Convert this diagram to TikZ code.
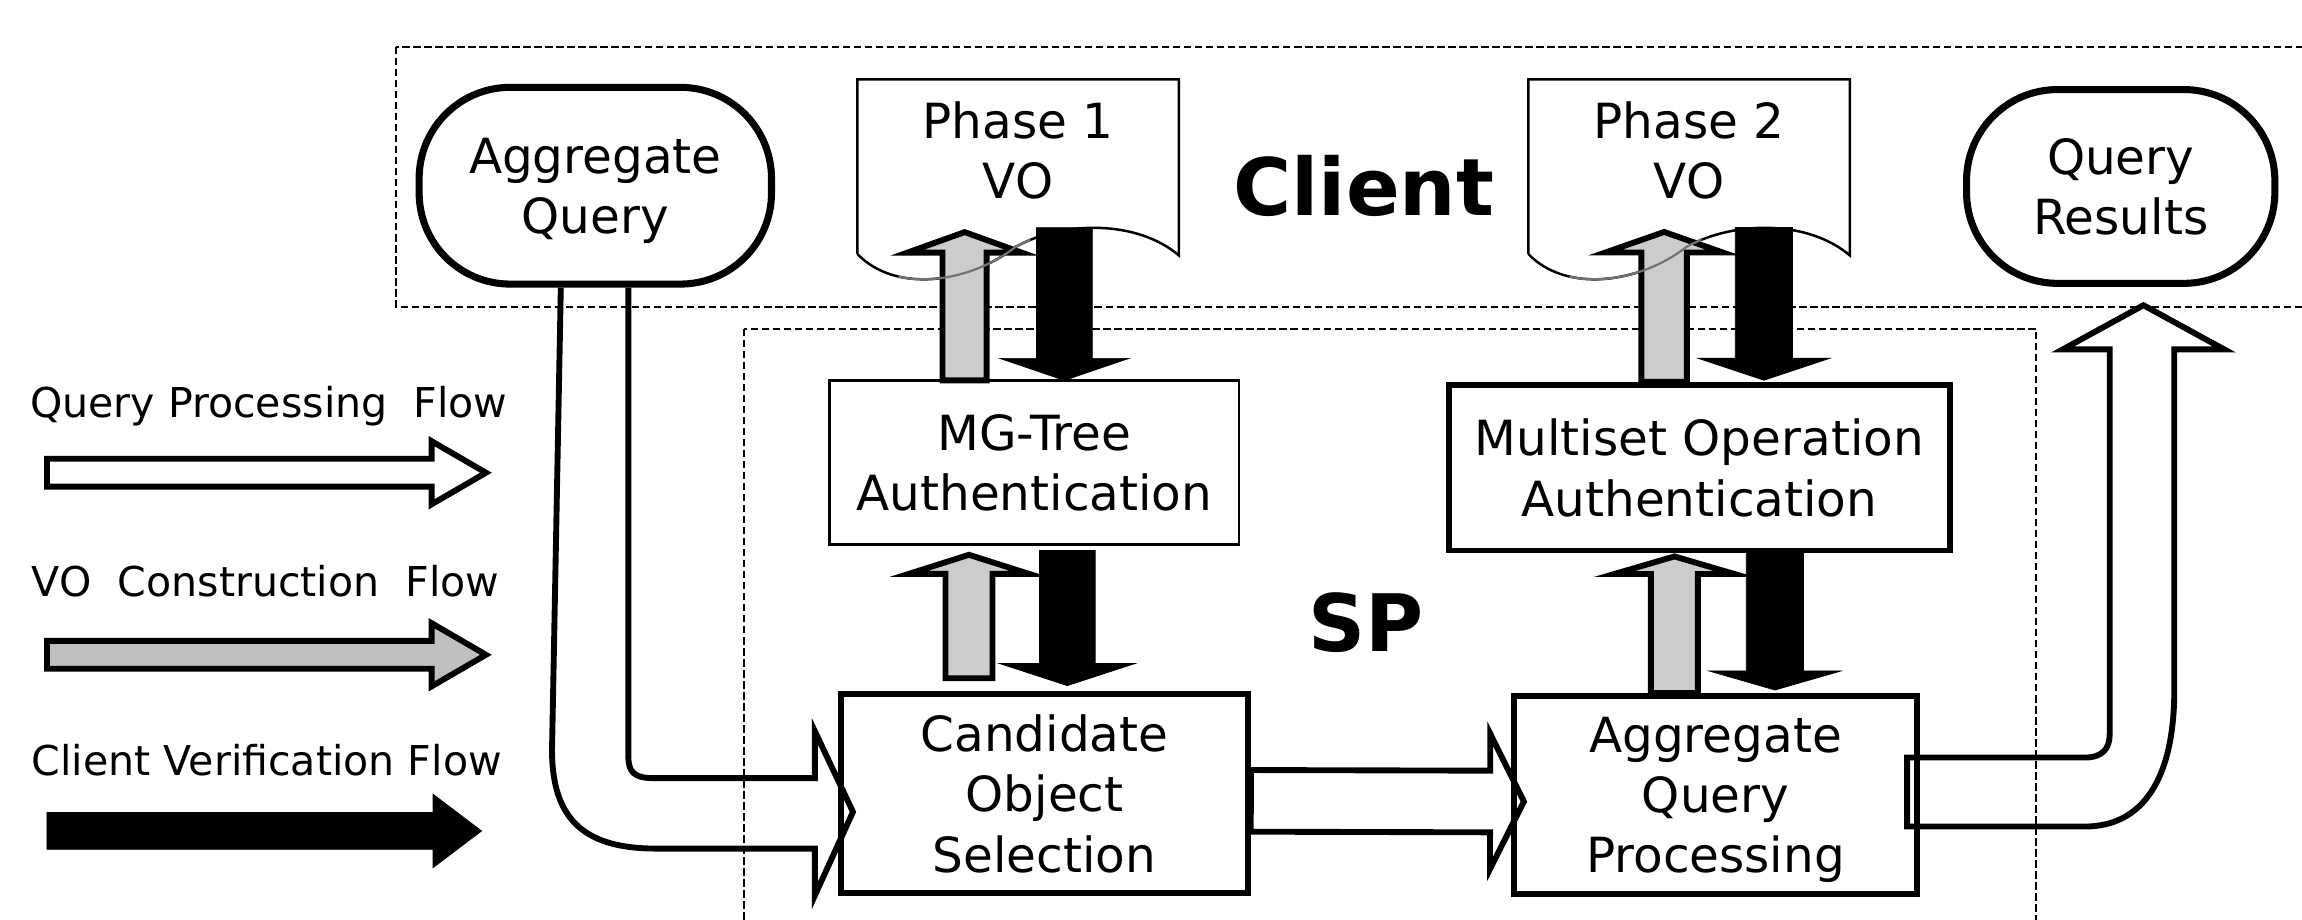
\documentclass[tikz,border=0pt]{standalone}
\usepackage{fontspec}
\setmainfont{DejaVu Sans}
\usetikzlibrary{calc}

% block arrow: style, from, to, half shaft, half head, head length
\newcommand{\blockarrow}[6]{%
  \coordinate (ba-s) at #2;
  \coordinate (ba-e) at #3;
  \coordinate (ba-h) at ($(ba-e)!#6!(ba-s)$);
  \draw[#1] ($(ba-s)!#4!90:(ba-e)$) -- ($(ba-h)!#4!-90:(ba-s)$) -- ($(ba-h)!#5!-90:(ba-s)$) -- (ba-e)
    -- ($(ba-h)!#5!90:(ba-s)$) -- ($(ba-h)!#4!90:(ba-s)$) -- ($(ba-s)!#4!-90:(ba-e)$) -- cycle;
}

\begin{document}
\begin{tikzpicture}[x=1pt, y=-1pt,
  box/.style={draw, line width=4pt, align=center, inner sep=0pt, text depth=0pt, font=\fontsize{33}{41}\selectfont},
  thinbox/.style={box, line width=1.8pt},
  terminal/.style={box, line width=4.8pt, rounded corners=62pt},
  doc/.style={draw, line width=1.7pt},
  region/.style={draw, line width=1.4pt, dash pattern=on 5pt off 2.5pt},
  flow/.style={draw, line width=4pt},
  vcons/.style={draw, line width=4pt, fill=black!20},
  vcheck/.style={draw, line width=0.5pt, fill=black},
  legend/.style={anchor=base west, inner sep=0pt, font=\fontsize{28}{34}\selectfont},
  tag/.style={anchor=base, inner sep=0pt, font=\fontsize{54}{60}\selectfont\bfseries}]

	\useasboundingbox (0,0) rectangle (1568,626);
	\clip (0,0) rectangle (1568,626);

	% Client and SP regions
	\draw[region] (270,32) rectangle (1590,209);
	\draw[region] (507,224) rectangle (1387,650);

	% VO documents
	\foreach \dx/\n in {0/1,457/2} {
		\begin{scope}[xshift=\dx pt]
			\draw[doc, fill=white] (584,173) -- (584,54) -- (803,54) -- (803,174) .. controls (775,150) and (725,150) .. (692,168) .. controls (660,193) and (610,200) .. (584,173);
			\node[font=\fontsize{33}{41}\selectfont, align=center, inner sep=0pt] (ph\n) at (693.5,102.5) {Phase \n\\VO};
		\end{scope}
	}

	% Client side
	\node[terminal, minimum width=240pt, minimum height=134pt] (aq) at (405.5,126.5) {Aggregate\\Query};
	\node[terminal, minimum width=210pt, minimum height=132pt] (qr) at (1444.5,127) {Query\\Results};
	\node[tag] (client) at (929,146.5) {Client};

	% SP side
	\node[thinbox, minimum width=279pt, minimum height=112pt] (mg) at (704.5,315) {MG-Tree\\Authentication};
	\node[box, minimum width=341pt, minimum height=113pt] (ms) at (1157.5,318.5) {Multiset Operation\\Authentication};
	\node[box, minimum width=277pt, minimum height=135pt] (cos) at (711.5,540.5) {Candidate\\Object\\Selection};
	\node[box, minimum width=275pt, minimum height=135pt] (aqp) at (1168.5,541.5) {Aggregate\\Query\\Processing};
	\node[tag] (sp) at (930.5,444) {SP};

	% VO construction (up)
	\blockarrow{vcons}{($(mg.north)+(-47.5,1)$)}{($(mg.north)+(-47.5,-100)$)}{15pt}{39pt}{14pt}
	\blockarrow{vcons}{($(cos.north)+(-51.5,-9)$)}{($(mg.south)+(-44.5,6)$)}{16pt}{41pt}{13pt}
	\blockarrow{vcons}{($(ms.north)+(-24,0)$)}{($(ms.north)+(-24,-102)$)}{15.5pt}{40pt}{14pt}
	\blockarrow{vcons}{($(aqp.north)+(-28,0)$)}{($(aqp.north)+(-28,-93)$)}{16pt}{41pt}{12pt}

	% wave of the VO documents over the gray arrows
	\foreach \dx in {0,457} {
		\begin{scope}[xshift=\dx pt]
			\clip (612,150) rectangle (702,200);
			\draw[black!55, line width=1.5pt] (803,174) .. controls (775,150) and (725,150) .. (692,168) .. controls (660,193) and (610,200) .. (584,173);
		\end{scope}
	}

	% client verification (down)
	\blockarrow{vcheck}{($(mg.north)+(20.5,-103)$)}{($(mg.north)+(20.5,1)$)}{19pt}{44pt}{15pt}
	\blockarrow{vcheck}{($(mg.south)+(22.5,3)$)}{($(cos.north)+(15.5,-4)$)}{19pt}{46pt}{15pt}
	\blockarrow{vcheck}{($(ms.north)+(44,-105)$)}{($(ms.north)+(44,-1)$)}{19.5pt}{45pt}{15pt}
	\blockarrow{vcheck}{($(aqp.north)+(40.5,-97)$)}{($(aqp.north)+(40.5,-2)$)}{19.5pt}{45pt}{13pt}

	% query processing flow
	\draw[flow] ($(aq.south)+(-23.5,0)$) -- (376,511) .. controls (376,560) and (400,578) .. (447,578) -- (555,578) -- (555,610) -- ($(cos.west)+(10,12.5)$) -- (555,498) -- (555,530) -- (445,530) .. controls (432,530) and (428,526) .. (428,515) -- ($(aq.south)+(22.5,0)$);
	\blockarrow{flow}{($(cos.east)+(0,5)$)}{($(aqp.west)+(9,4.5)$)}{21pt}{46pt}{23pt}
	\draw[flow] ($(aqp.east)+(-9,-25.5)$) -- (1420,516) .. controls (1432,516) and (1437,510) .. (1437,500) -- (1437,238) -- (1405,238) -- ($(qr.south)+(15.5,12.5)$) -- (1515,238) -- (1481,238) -- (1481,470) .. controls (1481,530) and (1460,563) .. (1420,563) -- ($(aqp.east)+(-9,21.5)$) -- cycle;

	% Legend
	\node[legend] (lgq) at (20.3,284.4) {Query Processing\ \ Flow};
	\node[legend] (lgv) at (21.5,406.4) {VO\ \ Construction\ \ Flow};
	\node[legend] (lgc) at (21.5,528.4) {Client Verification Flow};
	\blockarrow{flow, fill=white}{(32,322)}{(331,322)}{9.5pt}{21.5pt}{37pt}
	\blockarrow{vcons, fill=black!25}{(32,446)}{(331,446)}{9.5pt}{21.5pt}{37pt}
	\blockarrow{vcheck}{(32,566)}{(328,566)}{12.5pt}{25pt}{33pt}
\end{tikzpicture}
\end{document}
